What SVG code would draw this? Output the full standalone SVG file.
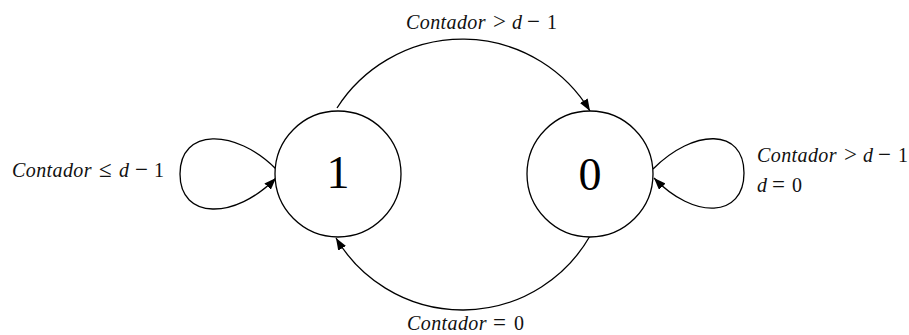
<svg xmlns="http://www.w3.org/2000/svg" width="909" height="335" viewBox="0 0 909 335">
<style>
.st{fill:#fff;stroke:#000;stroke-width:1.3}
.num{font-family:"Liberation Serif",serif;font-size:46px;text-anchor:middle;fill:#000}
.lbl{font-family:"Liberation Serif",serif;font-style:italic;font-size:20px;fill:#111}
.w{letter-spacing:0.4px}
.r{font-style:normal}
.op{font-style:normal;font-size:23px}
.c{fill:none;stroke:#000;stroke-width:1.3}
</style>
<defs>
<marker id="ah" viewBox="0 0 12 9" refX="12" refY="4.5" markerWidth="12" markerHeight="9" markerUnits="userSpaceOnUse" orient="auto">
<path d="M0,0 L12,4.5 L0,9 Z" fill="#000"/>
</marker>
</defs>
<g id="connectors">
<path class="c" d="M337,108 A149,149 0 0 1 590,111" marker-end="url(#ah)"/>
<path class="c" d="M590,236 A147,147 0 0 1 336,238" marker-end="url(#ah)"/>
<path class="c" d="M276,169 C235,128 180,128 180,174 C180,220 235,220 276,178" marker-end="url(#ah)"/>
<path class="c" d="M653,169 C694,128 744,128 744,173 C744,218 694,220 654,178" marker-end="url(#ah)"/>
</g>
<g id="node1">
<circle class="st" cx="338" cy="174" r="63"/>
<text class="num" x="338" y="188">1</text>
</g>
<g id="node0">
<circle class="st" cx="590" cy="174" r="63"/>
<text class="num" x="590" y="190">0</text>
</g>
<g id="labels">
<text class="lbl" y="29"><tspan class="w" x="406">Contador</tspan><tspan class="op" x="493">&gt;</tspan><tspan x="512">d</tspan><tspan class="op" x="527">−</tspan><tspan class="r" x="547">1</tspan></text>
<text class="lbl" y="177"><tspan class="w" x="12">Contador</tspan><tspan class="op" x="99">≤</tspan><tspan x="119">d</tspan><tspan class="op" x="135">−</tspan><tspan class="r" x="154">1</tspan></text>
<text class="lbl" y="162"><tspan class="w" x="757">Contador</tspan><tspan class="op" x="844">&gt;</tspan><tspan x="863">d</tspan><tspan class="op" x="878">−</tspan><tspan class="r" x="898">1</tspan></text>
<text class="lbl" y="192"><tspan x="757">d</tspan><tspan class="op" x="772">=</tspan><tspan class="r" x="792">0</tspan></text>
<text class="lbl" y="330"><tspan class="w" x="407">Contador</tspan><tspan class="op" x="493">=</tspan><tspan class="r" x="514">0</tspan></text>
</g>
</svg>
